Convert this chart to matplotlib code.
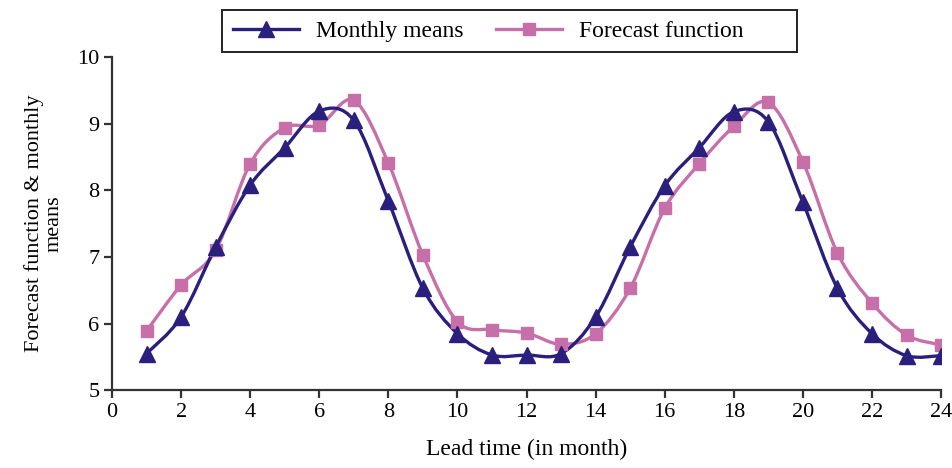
import numpy as np
import matplotlib.pyplot as plt
from matplotlib.path import Path
from matplotlib.patches import PathPatch, Rectangle
from matplotlib.lines import Line2D
from matplotlib import rcParams

rcParams['font.family'] = 'Liberation Serif'

# Data
months = list(range(1, 25))
monthly_means = [5.55, 6.10, 7.15, 8.08, 8.64, 9.19, 9.05, 7.84, 6.53, 5.85, 5.53, 5.53,
                 5.55, 6.10, 7.15, 8.07, 8.64, 9.18, 9.03, 7.82, 6.53, 5.85, 5.52, 5.52]
forecast = [5.89, 6.58, 7.10, 8.40, 8.94, 8.98, 9.35, 8.41, 7.03, 6.03, 5.91, 5.86,
            5.69, 5.85, 6.53, 7.73, 8.40, 8.96, 9.32, 8.43, 7.06, 6.31, 5.83, 5.68]

navy = '#2a1f7c'
pink = '#c66fa8'


def smooth_path(x, y):
    """Excel-like smoothed line: Catmull-Rom segments as cubic Beziers."""
    x = np.asarray(x, float)
    y = np.asarray(y, float)
    verts = [(x[0], y[0])]
    codes = [Path.MOVETO]
    n = len(x)
    for i in range(n - 1):
        x0, y0 = (x[i - 1], y[i - 1]) if i > 0 else (x[i], y[i])
        x3, y3 = (x[i + 2], y[i + 2]) if i + 2 < n else (x[i + 1], y[i + 1])
        c1 = (x[i] + (x[i + 1] - x0) / 6, y[i] + (y[i + 1] - y0) / 6)
        c2 = (x[i + 1] - (x3 - x[i]) / 6, y[i + 1] - (y3 - y[i]) / 6)
        verts += [c1, c2, (x[i + 1], y[i + 1])]
        codes += [Path.CURVE4] * 3
    return Path(verts, codes)


fig = plt.figure(figsize=(9.53, 4.68), dpi=100)
ax = fig.add_axes([0.1175, 0.166, 0.87, 0.712])

ax.add_patch(PathPatch(smooth_path(months, forecast), facecolor='none',
                       edgecolor=pink, lw=2.4, zorder=2))
ax.add_patch(PathPatch(smooth_path(months, monthly_means), facecolor='none',
                       edgecolor=navy, lw=2.4, zorder=3))
ax.plot(months, forecast, ls='none', marker='s', ms=8, color=pink, zorder=4)
ax.plot(months, monthly_means, ls='none', marker='^', ms=11, color=navy, zorder=5)

ax.set_xlim(0, 24)
ax.set_ylim(5, 10)
ax.set_xticks(range(0, 25, 2))
ax.set_yticks(range(5, 11))
for s in ['top', 'right']:
    ax.spines[s].set_visible(False)
for s in ['left', 'bottom']:
    ax.spines[s].set_linewidth(1.6)
    ax.spines[s].set_color('#333333')
ax.tick_params(direction='out', length=6, width=1.6, color='#333333',
               labelsize=16, pad=3)

ax.set_xlabel('Lead time (in month)', fontsize=17, labelpad=12)
ax.set_ylabel('Forecast function & monthly\nmeans', fontsize=16, labelpad=10,
              linespacing=1.0)

# Legend (frame drawn separately: it is wider than its entries)
handles = [Line2D([], [], color=navy, lw=2.4, marker='^', ms=11),
           Line2D([], [], color=pink, lw=2.4, marker='s', ms=8)]
fig.legend(handles, ['Monthly means', 'Forecast function'], ncol=2,
           loc='center left', bbox_to_anchor=(233 / 953, 1 - 31 / 468),
           fontsize=17, frameon=False, borderpad=0, borderaxespad=0,
           handlelength=2.8, columnspacing=1.4, handletextpad=0.7)
fig.patches.append(Rectangle((222 / 953, 1 - 52 / 468), 575 / 953, 42 / 468,
                             transform=fig.transFigure, fill=False,
                             edgecolor='#222222', lw=1.4))

plt.savefig('out.png', dpi=100)
